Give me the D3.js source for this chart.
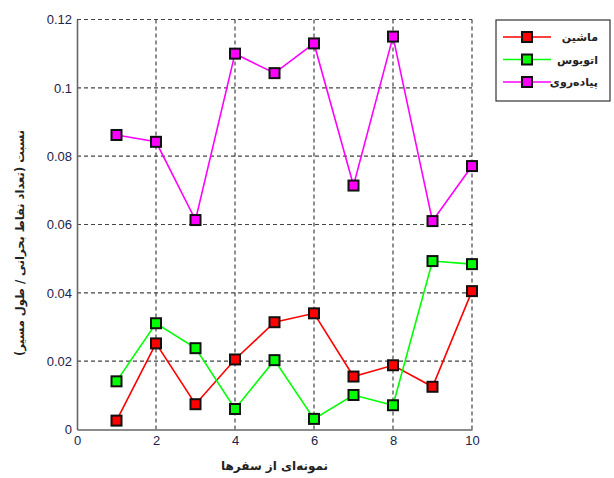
<!DOCTYPE html>
<html>
<head>
<meta charset="utf-8">
<script src="https://cdn.jsdelivr.net/npm/d3@7"></script>
<style>
  html, body { margin: 0; padding: 0; background: #fff; }
  svg { display: block; }
  .tick text { font-family: "Liberation Sans", Arial, sans-serif; font-size: 13px; fill: #22224a; }
  .fa { font-family: "DejaVu Sans", sans-serif; font-weight: bold; fill: #222; }
</style>
</head>
<body>
<svg id="chart" width="614" height="478"></svg>
<script>
// Sample indices along the x axis
const samples = [1, 2, 3, 4, 5, 6, 7, 8, 9, 10];

// Ratio of critical points to route length, per transport mode
const carValues = [0.0026, 0.0252, 0.0074, 0.0205, 0.0314, 0.0340, 0.0155, 0.0188, 0.0125, 0.0405];
const busValues = [0.0141, 0.0311, 0.0238, 0.0060, 0.0203, 0.0031, 0.0101, 0.0071, 0.0493, 0.0484];
const walkValues = [0.0862, 0.0842, 0.0613, 0.1100, 0.1043, 0.1130, 0.0714, 0.1150, 0.0610, 0.0771];

const seriesNames = ["ماشین", "اتوبوس", "پیاده‌روی"];
const seriesColors = ["#ff0000", "#00ff00", "#ff00ff"];

const xTicks = [0, 2, 4, 6, 8, 10];
const yTicks = [0, 0.02, 0.04, 0.06, 0.08, 0.1, 0.12];

const xLabel = "نمونه‌ای از سفرها";
const yLabel = "نسبت (تعداد نقاط بحرانی / طول مسیر)";

const series = [carValues, busValues, walkValues].map((vals, i) => ({
  name: seriesNames[i],
  color: seriesColors[i],
  points: samples.map((s, j) => ({ x: s, y: vals[j] }))
}));

const svg = d3.select("#chart");
const x = d3.scaleLinear().domain([0, 10]).range([77, 472]);
const y = d3.scaleLinear().domain([0, 0.12]).range([429.5, 19.5]);

// Dashed grid
const grid = svg.append("g").attr("stroke", "#444").attr("stroke-width", 1.2)
  .attr("stroke-dasharray", "4,3");
grid.selectAll("line.gx").data(xTicks.filter(d => d > 0)).join("line")
  .attr("x1", d => x(d)).attr("x2", d => x(d))
  .attr("y1", y(0)).attr("y2", y(0.12));
grid.selectAll("line.gy").data(yTicks.filter(d => d > 0)).join("line")
  .attr("y1", d => y(d)).attr("y2", d => y(d))
  .attr("x1", x(0)).attr("x2", x(10));

// Axes
const fmt = d => String(+d.toFixed(2));
const xAxis = svg.append("g").attr("transform", `translate(0,${y(0)})`)
  .call(d3.axisBottom(x).tickValues(xTicks).tickFormat(fmt).tickSize(0).tickPadding(6));
const yAxis = svg.append("g").attr("transform", `translate(${x(0)},0)`)
  .call(d3.axisLeft(y).tickValues(yTicks).tickFormat(fmt).tickSize(0).tickPadding(5));
[xAxis, yAxis].forEach(g => g.select(".domain").attr("stroke", "#666").attr("stroke-width", 1.6));

// Lines and markers
const line = d3.line().x(d => x(d.x)).y(d => y(d.y));
const ms = 10;
series.forEach(s => {
  svg.append("path").datum(s.points)
    .attr("fill", "none").attr("stroke", s.color).attr("stroke-width", 1.6)
    .attr("d", line);
  svg.append("g").selectAll("rect").data(s.points).join("rect")
    .attr("x", d => x(d.x) - ms / 2).attr("y", d => y(d.y) - ms / 2)
    .attr("width", ms).attr("height", ms)
    .attr("fill", s.color).attr("stroke", "#111").attr("stroke-width", 2);
});

// Axis titles
svg.append("text").attr("class", "fa")
  .attr("x", x(5)).attr("y", 470).attr("text-anchor", "middle")
  .attr("direction", "rtl").attr("font-size", 12).text(xLabel);
svg.append("text").attr("class", "fa")
  .attr("transform", `translate(24,243) rotate(-90)`)
  .attr("text-anchor", "middle").attr("direction", "rtl")
  .attr("font-size", 11.5).text(yLabel);

// Legend
const lg = svg.append("g");
lg.append("rect").attr("x", 496).attr("y", 20).attr("width", 114).attr("height", 81)
  .attr("fill", "#fff").attr("stroke", "#333").attr("stroke-width", 1.2);
series.forEach((s, i) => {
  const ly = 37 + i * 22.5;
  lg.append("line").attr("x1", 503).attr("x2", 551).attr("y1", ly).attr("y2", ly)
    .attr("stroke", s.color).attr("stroke-width", 1.6);
  lg.append("rect").attr("x", 527 - ms / 2).attr("y", ly - ms / 2)
    .attr("width", ms).attr("height", ms)
    .attr("fill", s.color).attr("stroke", "#111").attr("stroke-width", 2);
  lg.append("text").attr("class", "fa")
    .attr("x", 598).attr("y", ly + 4).attr("text-anchor", "start")
    .attr("direction", "rtl").attr("font-size", 11).text(s.name);
});
</script>
</body>
</html>
